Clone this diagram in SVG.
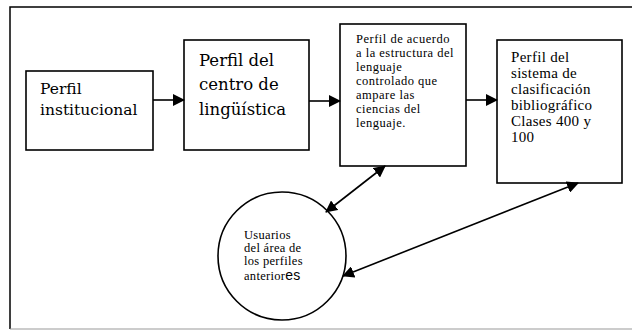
<svg xmlns="http://www.w3.org/2000/svg" width="632" height="330" viewBox="0 0 632 330">
<style>
.box{fill:#fff;stroke:#000;stroke-width:1.6}
.frame{fill:none;stroke:#000;stroke-width:1.5}
.conn{stroke:#000;stroke-width:1.6;fill:none}
.t1{font-family:"DejaVu Serif",serif;font-size:15.5px;fill:#000}
.t2{font-family:"DejaVu Serif",serif;font-size:16.5px;fill:#000}
.t3{font-family:"Liberation Serif",serif;font-size:12.5px;letter-spacing:0.5px;fill:#000}
.t4{font-family:"Liberation Serif",serif;font-size:15px;letter-spacing:0.3px;fill:#000}
.t5{font-family:"Liberation Serif",serif;font-size:12.5px;letter-spacing:0.3px;fill:#000}
</style>
<defs>
<marker id="ah" viewBox="0 0 12 12" refX="11" refY="6" markerWidth="12" markerHeight="12" markerUnits="userSpaceOnUse" orient="auto-start-reverse">
<path d="M0,0 L12,6 L0,12 Z" fill="#000"/>
</marker>
</defs>
<rect width="632" height="330" fill="#fff"/>
<path class="frame" d="M632,7 H10 V329"/>
<line x1="10" y1="329" x2="632" y2="329" stroke="#999" stroke-width="1.2"/>
<g id="n1">
<rect class="box" x="26" y="71" width="127" height="79"/>
<text class="t1" x="40" y="94">Perfil</text>
<text class="t1" x="40" y="115">institucional</text>
</g>
<g id="n2">
<rect class="box" x="184" y="40" width="125" height="110"/>
<text class="t2" x="199" y="66">Perfil del</text>
<text class="t2" x="199" y="90">centro de</text>
<text class="t2" x="199" y="115">lingüística</text>
</g>
<g id="n3">
<rect class="box" x="340" y="24" width="126" height="142"/>
<text class="t3" x="356" y="43">Perfil de acuerdo</text>
<text class="t3" x="356" y="57">a la estructura del</text>
<text class="t3" x="356" y="71">lenguaje</text>
<text class="t3" x="356" y="85">controlado que</text>
<text class="t3" x="356" y="99">ampare las</text>
<text class="t3" x="356" y="113">ciencias del</text>
<text class="t3" x="356" y="127">lenguaje.</text>
</g>
<g id="n4">
<rect class="box" x="497" y="40" width="125" height="143"/>
<text class="t4" x="511" y="62">Perfil del</text>
<text class="t4" x="511" y="78">sistema de</text>
<text class="t4" x="511" y="94">clasificación</text>
<text class="t4" x="511" y="110">bibliográfico</text>
<text class="t4" x="511" y="126">Clases 400 y</text>
<text class="t4" x="511" y="142">100</text>
</g>
<g id="n5">
<circle class="box" cx="282" cy="256" r="64"/>
<text class="t5" x="244" y="239">Usuarios</text>
<text class="t5" x="244" y="252">del área de</text>
<text class="t5" x="244" y="265">los perfiles</text>
<text class="t5" x="244" y="280">anterior<tspan font-family="Liberation Sans, sans-serif" font-size="14px">es</tspan></text>
</g>
<g id="connectors">
<line class="conn" x1="153" y1="100" x2="184" y2="100" marker-end="url(#ah)"/>
<line class="conn" x1="309" y1="101" x2="340" y2="101" marker-end="url(#ah)"/>
<line class="conn" x1="466" y1="100" x2="497" y2="100" marker-end="url(#ah)"/>
<line class="conn" x1="326" y1="212" x2="385" y2="166" marker-start="url(#ah)" marker-end="url(#ah)"/>
<line class="conn" x1="343" y1="276" x2="578" y2="183" marker-start="url(#ah)" marker-end="url(#ah)"/>
</g>
</svg>
